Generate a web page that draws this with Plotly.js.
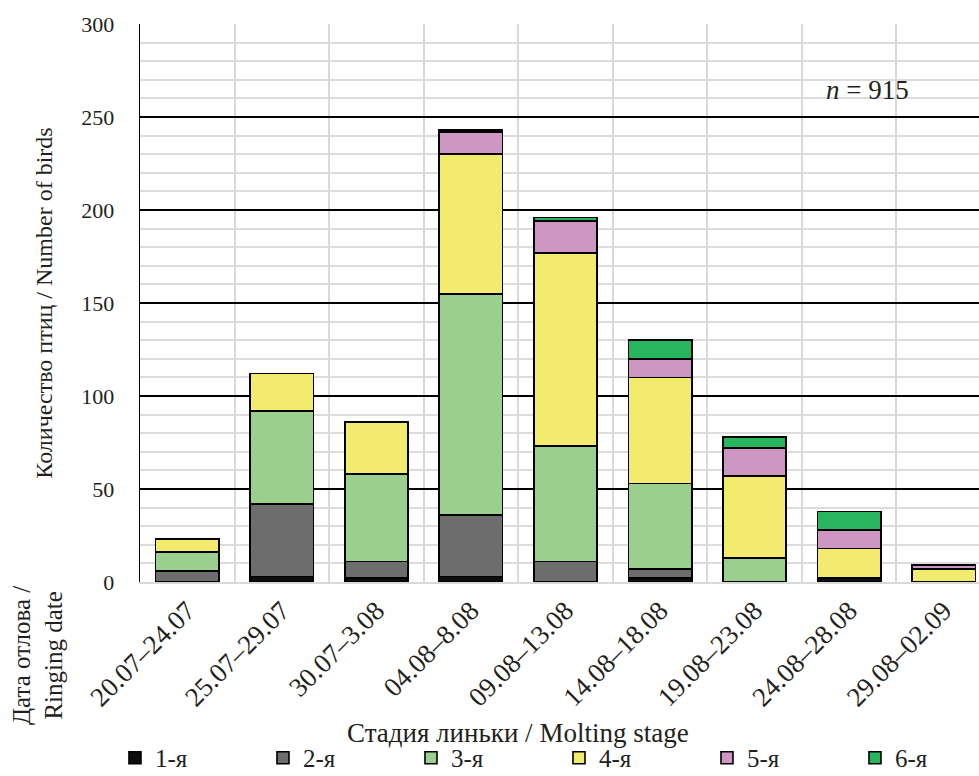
<!DOCTYPE html>
<html>
<head>
<meta charset="utf-8">
<script src="https://cdn.plot.ly/plotly-3.0.1.min.js"></script>
<style>
  html, body { margin: 0; padding: 0; overflow: hidden; background: #fff; }
  #chart { width: 1000px; height: 776px; }
</style>
</head>
<body>
<div id="chart"></div>
<script>
// Ringing date periods (categories)
const categories = ["20.07–24.07", "25.07–29.07", "30.07–3.08", "04.08–8.08", "09.08–13.08",
                    "14.08–18.08", "19.08–23.08", "24.08–28.08", "29.08–02.09"];
// Molting stages (legend names)
const stageNames = ["1-я", "2-я", "3-я", "4-я", "5-я", "6-я"];
// Number of birds per stage, per period
const stage1 = [0, 3, 2, 3, 0, 2, 0, 2, 0];
const stage2 = [6, 39, 9, 33, 11, 5, 0, 0, 0];
const stage3 = [10, 50, 47, 119, 62, 46, 13, 0, 0];
const stage4 = [7, 20, 28, 75, 104, 57, 44, 16, 7];
const stage5 = [0, 0, 0, 12, 17, 10, 15, 10, 2];
const stage6 = [0, 0, 0, 1, 2, 10, 6, 10, 0];
const yTicks = [0, 50, 100, 150, 200, 250, 300];

const stageValues = [stage1, stage2, stage3, stage4, stage5, stage6];
const colors = ["#0d0d0d", "#6d6d6d", "#9bcf8e", "#f2eb6e", "#cd96c3", "#27b55e"];
const FONT = "Liberation Serif";
const TXT = "#231f20";

const traces = stageValues.map((vals, i) => ({
  type: "bar",
  name: stageNames[i],
  x: categories,
  y: vals,
  marker: { color: colors[i], line: { color: "#000", width: 1.6 } },
  hoverinfo: "x+y+name"
}));

const layout = {
  width: 1000,
  height: 776,
  margin: { l: 140, r: 9, t: 24, b: 194, autoexpand: false },
  paper_bgcolor: "#fff",
  plot_bgcolor: "#fff",
  barmode: "stack",
  bargap: 0.33,
  font: { family: FONT, size: 22, color: TXT },
  showlegend: true,
  legend: {
    orientation: "h",
    x: -0.0294, xanchor: "left",
    y: -0.3154, yanchor: "middle",
    entrywidth: 103, entrywidthmode: "pixels",
    traceorder: "normal",
    font: { family: FONT, size: 25, color: TXT },
    itemwidth: 30,
    bgcolor: "rgba(0,0,0,0)"
  },
  xaxis: {
    type: "category",
    tickson: "boundaries",
    showgrid: true,
    gridcolor: "#d9d9d9",
    gridwidth: 2,
    showline: true,
    linecolor: "#d9d9d9",
    linewidth: 2,
    ticks: "outside",
    ticklen: 14,
    tickcolor: "rgba(0,0,0,0)",
    tickangle: -45,
    tickfont: { family: FONT, size: 27, color: TXT },
    automargin: false
  },
  yaxis: {
    range: [0, 300],
    tickvals: yTicks,
    ticktext: yTicks.map(String),
    showgrid: true,
    gridcolor: "#000",
    gridwidth: 1.3,
    minor: { dtick: 10, showgrid: true, gridcolor: "#dcdcdc", gridwidth: 2 },
    zeroline: false,
    showline: true,
    linecolor: "#000",
    linewidth: 1.3,
    ticks: "outside",
    ticklen: 20,
    tickcolor: "rgba(0,0,0,0)",
    tickfont: { family: FONT, size: 22, color: TXT },
    title: { text: "Количество птиц / Number of birds", standoff: 22,
             font: { family: FONT, size: 24, color: TXT } },
    automargin: false
  },
  annotations: [
    { xref: "paper", yref: "paper", x: 0.855, y: 0.882, xanchor: "center", yanchor: "middle",
      text: "<i>n</i> = 915", showarrow: false, font: { family: FONT, size: 27, color: TXT } },
    { xref: "paper", yref: "paper", x: 0.444, y: -0.2706, xanchor: "center", yanchor: "middle",
      text: "Стадия линьки / Molting stage", showarrow: false, font: { family: FONT, size: 27, color: TXT } },
    { xref: "paper", yref: "paper", x: -0.12, y: -0.131, xanchor: "center", yanchor: "middle",
      textangle: -90, align: "center",
      text: "Дата отлова /<br>Ringing date", showarrow: false, font: { family: FONT, size: 25, color: TXT } }
  ]
};

Plotly.newPlot("chart", traces, layout, { displayModeBar: false, staticPlot: true });
</script>
</body>
</html>
